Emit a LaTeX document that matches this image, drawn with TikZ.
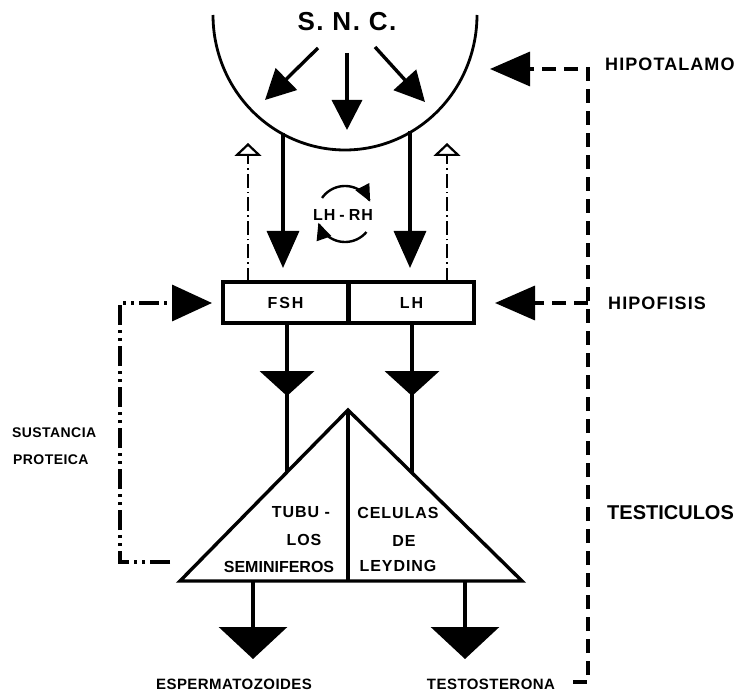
\documentclass[tikz,border=0pt]{standalone}
\usepackage{fontspec}
\setmainfont{Liberation Sans}
\newfontfamily\lsp[LetterSpace=6]{Liberation Sans}
\newfontfamily\lspn[LetterSpace=3]{Liberation Sans}
\newfontfamily\lspw[LetterSpace=12]{Liberation Sans}
\usetikzlibrary{arrows.meta}
\tikzset{
  heavy/.style={line width=3.4pt},
  lbl/.style={inner sep=0pt, font=\lsp\bfseries},
  boxst/.style={draw, heavy, minimum width=125pt, minimum height=41pt, inner sep=0pt, font=\lspw\bfseries\fontsize{16}{18}\selectfont},
  fbline/.style={line width=1.6pt, dash pattern=on 14pt off 4pt on 1.6pt off 4pt, -{Triangle[open, length=13pt, width=27pt, line width=2.2pt]}},
  snctip/.style={heavy, -{Triangle[length=30pt, width=30pt]}},
  downtip/.style={heavy, -{Triangle[length=37pt, width=32pt]}},
  outtip/.style={heavy, -{Triangle[length=32pt, width=68pt]}},
  dashr/.style={heavy, dash pattern=on 14pt off 8pt, -{Triangle[length=40pt, width=34pt]}},
  dashl/.style={heavy, dash pattern=on 20pt off 5pt on 3pt off 5pt on 3pt off 5pt, -{Triangle[length=40pt, width=36pt]}},
  cyc/.style={line width=2.4pt, -{Triangle[length=17pt, width=15pt]}},
  wedge/.style={fill=black, draw=none}
}
\begin{document}
\begin{tikzpicture}[x=1pt, y=-1pt]
\useasboundingbox (0,0) rectangle (745,695);

% central nervous system arc
\draw[line width=2.8pt] plot[smooth, domain=180:360, samples=73] ({345+132*cos(\x)},{15-135*sin(\x)});
\node[lbl, font=\lsp\bfseries\fontsize{26}{28}\selectfont] (snc) at (347,22) {S. N. C.};

% arrows inside the arc
\coordinate (s1) at (318,48);  \coordinate (t1) at (265,100);
\coordinate (s2) at (347,53);  \coordinate (t2) at (347,130);
\coordinate (s3) at (375,47);  \coordinate (t3) at (425,102);
\draw[snctip] (s1) -- (t1);
\draw[snctip] (s2) -- (t2);
\draw[snctip] (s3) -- (t3);

% pituitary boxes
\node[boxst] (fsh) at (285.5,302.5) {FSH};
\node[boxst] (lh)  at (411.5,302.5) {LH};

% descending lines from the arc
\coordinate (a1) at (283,133);  \coordinate (b1) at (283,268);
\coordinate (a2) at (410,131);  \coordinate (b2) at (410,268);
\draw[downtip] (a1) -- (b1);
\draw[downtip] (a2) -- (b2);

% feedback (open arrows)
\coordinate (f1) at (248,282);  \coordinate (g1) at (248,143);
\coordinate (f2) at (447,282);  \coordinate (g2) at (447,143);
\draw[fbline] (f1) -- (g1);
\draw[fbline] (f2) -- (g2);

% LH-RH cycle
\node[lbl, font=\lsp\bfseries\fontsize{16}{18}\selectfont] (lhrh) at (343,215) {LH\hspace{4pt}-\hspace{4pt}RH};
\draw[cyc] plot[smooth, domain=-145:-26, samples=30] ({345+28*cos(\x)},{214+28*sin(\x)});
\draw[cyc] plot[smooth, domain=40:162, samples=30] ({345+28*cos(\x)},{214+28*sin(\x)});

% testis triangle
\coordinate (apex) at (348,410);
\coordinate (bl) at (180,581);
\coordinate (br) at (522,581);
\coordinate (bm) at (348,581);
\draw[heavy, line join=miter] (apex) -- (bl) -- (br) -- cycle;
\draw[heavy] (apex) -- (bm);

% lines from boxes to triangle
\coordinate (e1) at (287,472);
\coordinate (e2) at (412,473);
\draw[heavy] (fsh.south -| e1) -- (e1);
\draw[heavy] (lh.south -| e2) -- (e2);
\fill[wedge] (259.5,371) -- (314.5,371) -- (287,396) -- cycle;
\fill[wedge] (384.5,371) -- (439.5,371) -- (412,396) -- cycle;

% triangle texts
\node[lbl, font=\lsp\bfseries\fontsize{16}{18}\selectfont] (tubu) at (301,512) {TUBU -};
\node[lbl, font=\lsp\bfseries\fontsize{16}{18}\selectfont] (los) at (304,540) {LOS};
\node[lbl, font=\bfseries\fontsize{16}{18}\selectfont] (semi) at (279,567) {SEMINIFEROS};
\node[lbl, font=\lsp\bfseries\fontsize{16}{18}\selectfont] (cel) at (398,513) {CELULAS};
\node[lbl, font=\lsp\bfseries\fontsize{16}{18}\selectfont] (de) at (404,541) {DE};
\node[lbl, font=\lsp\bfseries\fontsize{16}{18}\selectfont] (ley) at (398,566) {LEYDING};

% outputs
\coordinate (o1) at (253,581);  \coordinate (p1) at (253,659);
\coordinate (o2) at (465,581);  \coordinate (p2) at (465,659);
\draw[outtip] (o1) -- (p1);
\draw[outtip] (o2) -- (p2);
\node[lbl, font=\lspn\bfseries\fontsize{15}{17}\selectfont] (esp) at (234,684) {ESPERMATOZOIDES};
\node[lbl, font=\lspn\bfseries\fontsize{15}{17}\selectfont] (tes) at (491,684) {TESTOSTERONA};

% right-hand dashed feedback
\coordinate (r0) at (573,682);
\coordinate (r1) at (588,682);
\coordinate (r2) at (588,69);
\coordinate (r3) at (490,69);
\coordinate (h1) at (588,303);
\coordinate (h2) at (495,303);
\draw[dashr] (r0) -- (r1) -- (r2) -- (r3);
\draw[dashr] (h1) -- (h2);

% left-hand dash-dot feedback
\coordinate (l0) at (170,562);
\coordinate (l1) at (120,562);
\coordinate (l2) at (120,303);
\coordinate (l3) at (212,303);
\draw[dashl] (l0) -- (l1) -- (l2) -- (l3);

% side labels
\node[lbl, anchor=west, font=\lsp\bfseries\fontsize{18}{20}\selectfont] (hipot) at (605,64) {HIPOTALAMO};
\node[lbl, anchor=west, font=\lsp\bfseries\fontsize{18}{20}\selectfont] (hipof) at (608,303) {HIPOFISIS};
\node[lbl, anchor=west, font=\bfseries\fontsize{20}{22}\selectfont] (testi) at (607,513) {TESTICULOS};
\node[lbl, anchor=west, font=\lspn\bfseries\fontsize{14}{16}\selectfont] (sus) at (12,433) {SUSTANCIA};
\node[lbl, anchor=west, font=\lspn\bfseries\fontsize{14}{16}\selectfont] (pro) at (13,460) {PROTEICA};
\end{tikzpicture}
\end{document}
